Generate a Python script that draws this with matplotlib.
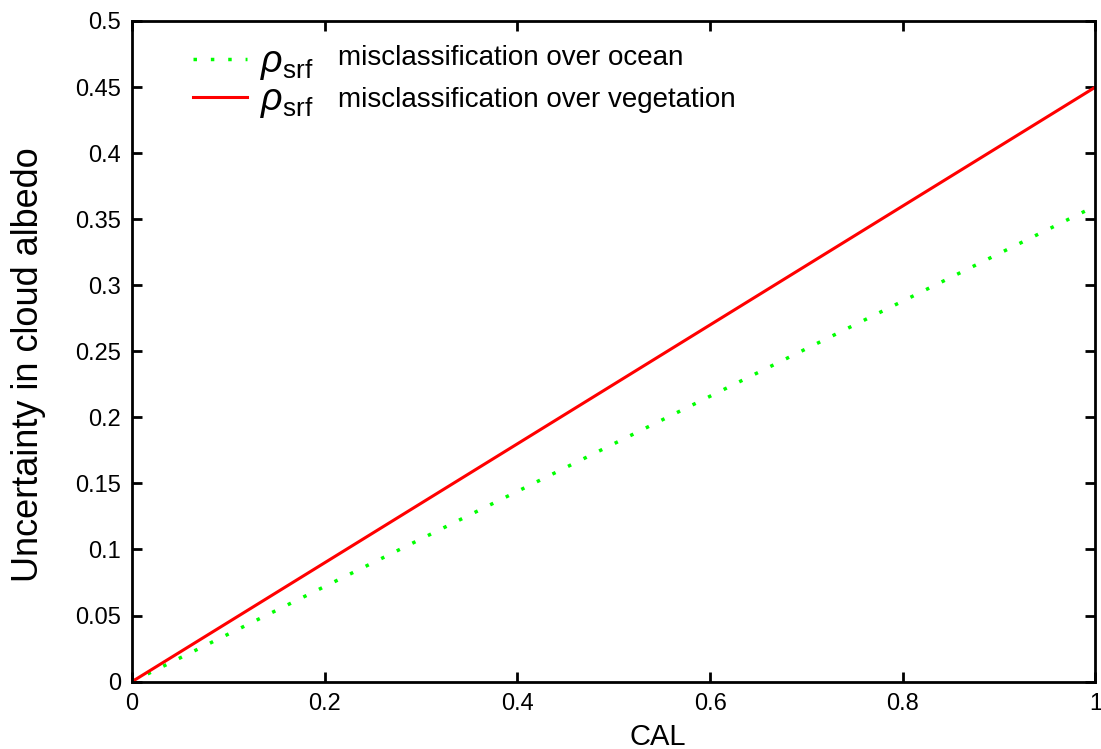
import matplotlib
matplotlib.use("Agg")
import matplotlib.pyplot as plt

plt.rcParams['font.family'] = ['Liberation Sans', 'DejaVu Sans']
plt.rcParams['mathtext.fontset'] = 'custom'
plt.rcParams['mathtext.rm'] = 'Liberation Sans'
plt.rcParams['mathtext.it'] = 'Liberation Sans:italic'

cal = [0.0, 0.2, 0.4, 0.6, 0.8, 1.0]
ocean = [0.0, 0.072, 0.144, 0.216, 0.288, 0.36]
vegetation = [0.0, 0.09, 0.18, 0.27, 0.36, 0.45]
symbol = r'$\rho_{\mathrm{srf}}$'
descriptions = ['misclassification over ocean', 'misclassification over vegetation']
xticks = [0, 0.2, 0.4, 0.6, 0.8, 1]
yticks = [0, 0.05, 0.1, 0.15, 0.2, 0.25, 0.3, 0.35, 0.4, 0.45, 0.5]

fig = plt.figure(figsize=(11.01, 7.49), dpi=100)
ax = fig.add_axes([0.120, 0.090, 0.875, 0.882])
ax.plot(cal, ocean, color='#00ff00', linestyle=(0, (1, 4)), linewidth=2.5, label=symbol)
ax.plot(cal, vegetation, color='#ff0000', linewidth=2.2, label=symbol)
ax.set_xlim(0, 1)
ax.set_ylim(0, 0.5)
ax.set_xticks(xticks)
ax.set_xticklabels(['0', '0.2', '0.4', '0.6', '0.8', '1'])
ax.set_yticks(yticks)
ax.set_yticklabels(['0', '0.05', '0.1', '0.15', '0.2', '0.25', '0.3', '0.35', '0.4', '0.45', '0.5'])
ax.tick_params(direction='in', top=True, right=True, length=7, width=2, labelsize=17, pad=8)
for s in ax.spines.values():
    s.set_linewidth(2)
ax.set_xlabel('CAL', fontsize=21)
ax.xaxis.set_label_coords(0.546, -0.062)
ax.set_ylabel('Uncertainty in cloud albedo', fontsize=26)
ax.yaxis.set_label_coords(-0.089, 0.48)
leg = ax.legend(loc='upper left', bbox_to_anchor=(0.063, 0.965), frameon=False, fontsize=27,
                handlelength=1.45, handletextpad=0.35, labelspacing=0.0,
                borderpad=0, borderaxespad=0)
ax.text(0.214, 0.944, descriptions[0], transform=ax.transAxes, fontsize=20, va='center', ha='left')
ax.text(0.214, 0.880, descriptions[1], transform=ax.transAxes, fontsize=20, va='center', ha='left')
fig.savefig('out.png', dpi=100)
